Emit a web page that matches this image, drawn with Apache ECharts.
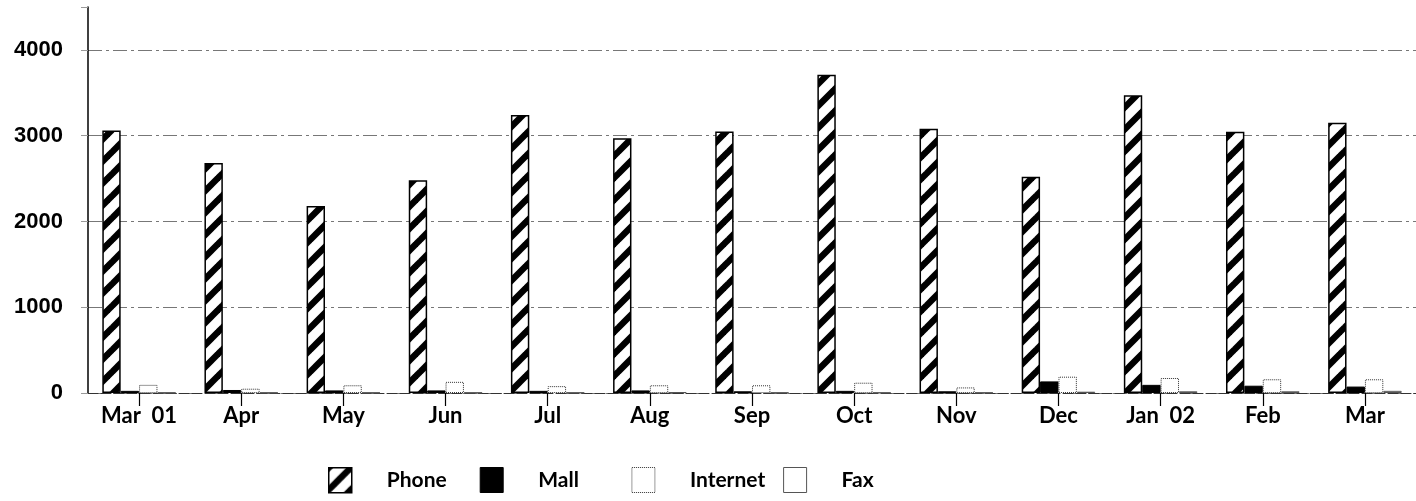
<!DOCTYPE html>
<html>
<head>
<meta charset="utf-8">
<script src="https://cdn.jsdelivr.net/npm/echarts@6/dist/echarts.min.js"></script>
<style>
  html, body { margin: 0; padding: 0; background: #fff; }
  #chart { width: 1416px; height: 501px; }
</style>
</head>
<body>
<div id="chart"></div>
<script>
// Monthly contact volumes by channel
const categories = ['Mar  01', 'Apr', 'May', 'Jun', 'Jul', 'Aug', 'Sep', 'Oct', 'Nov', 'Dec', 'Jan  02', 'Feb', 'Mar'];
const phone    = [3060, 2680, 2180, 2480, 3240, 2970, 3050, 3710, 3080, 2520, 3470, 3045, 3150];
const mail     = [25, 35, 30, 30, 25, 30, 20, 25, 20, 135, 95, 85, 75];
const internet = [95, 50, 90, 130, 80, 90, 90, 120, 65, 190, 175, 160, 160];
const fax      = [5, 5, 5, 5, 5, 10, 5, 5, 5, 15, 20, 20, 25];
const yTicks   = [0, 1000, 2000, 3000, 4000];
const seriesNames = ['Phone', 'Mall', 'Internet', 'Fax'];

// diagonal hatch tile for the Phone bars
function hatchTile() {
  const s = 22;
  const c = document.createElement('canvas');
  c.width = s; c.height = s;
  const g = c.getContext('2d');
  g.fillStyle = '#fff';
  g.fillRect(0, 0, s, s);
  g.strokeStyle = '#000';
  g.lineWidth = 6.5;
  for (let k = -1; k <= 1; k++) {
    g.beginPath();
    g.moveTo(k * s - 2, s + 2);
    g.lineTo(k * s + s + 2, -2);
    g.stroke();
  }
  return c;
}
const hatch = { image: hatchTile(), repeat: 'repeat' };

const labelFont = 'Lato, "Open Sans", sans-serif';

// one style per channel, shared by bars and legend keys
const styles = {
  Phone:    { color: hatch, borderColor: '#000', borderWidth: 1.5 },
  Mall:     { color: '#000', borderColor: '#000', borderWidth: 1 },
  Internet: { color: '#fff', borderColor: '#333', borderWidth: 1, borderType: 'dotted' },
  Fax:      { color: '#fff', borderColor: '#555', borderWidth: 1 }
};

// legend keys sit in evenly spaced columns
const legendLeft = 323, legendPitch = 151.7;
const legends = seriesNames.map((name, i) => ({
  left: legendLeft + i * legendPitch,
  top: 462,
  icon: 'rect',
  itemWidth: 23,
  itemHeight: 25,
  textStyle: {
    fontFamily: labelFont, fontWeight: 'bold', fontSize: 21, color: '#000',
    padding: [0, 0, 0, 30]
  },
  data: [{ name, itemStyle: styles[name] }]
}));

const chart = echarts.init(document.getElementById('chart'), null, { renderer: 'canvas' });
chart.setOption({
  animation: false,
  backgroundColor: '#fff',
  grid: { left: 88, right: -16, top: 7, bottom: 108 },
  legend: legends,
  xAxis: {
    type: 'category',
    data: categories,
    axisLine: { show: true, lineStyle: { color: '#333', width: 1, type: [10, 3] } },
    axisTick: { show: true, alignWithLabel: true, length: 13, lineStyle: { color: '#000', width: 1.2 } },
    axisLabel: {
      margin: 12, fontFamily: labelFont, fontWeight: 'bold', fontSize: 22, color: '#000'
    },
    splitLine: { show: false }
  },
  yAxis: {
    type: 'value',
    min: 0,
    max: 4500,
    interval: 1000,
    axisLine: { show: true, lineStyle: { color: '#000', width: 1.5 } },
    axisTick: { show: true, length: 7, lineStyle: { color: '#999', width: 1 } },
    axisLabel: {
      margin: 25,
      fontFamily: '"Liberation Sans", Arial, sans-serif',
      fontWeight: 'bold',
      fontSize: 22,
      color: '#000',
      formatter: v => (yTicks.indexOf(v) >= 0 ? String(v) : '')
    },
    splitLine: {
      show: true,
      showMaxLine: false,
      lineStyle: { color: '#777', width: 1, type: [14, 4, 3, 4] }
    }
  },
  series: [
    { name: 'Phone', type: 'bar', data: phone, barGap: '0%', barCategoryGap: '28%', itemStyle: styles.Phone },
    { name: 'Mall', type: 'bar', data: mail, itemStyle: styles.Mall },
    { name: 'Internet', type: 'bar', data: internet, itemStyle: styles.Internet },
    { name: 'Fax', type: 'bar', data: fax, itemStyle: styles.Fax }
  ]
});
</script>
</body>
</html>
